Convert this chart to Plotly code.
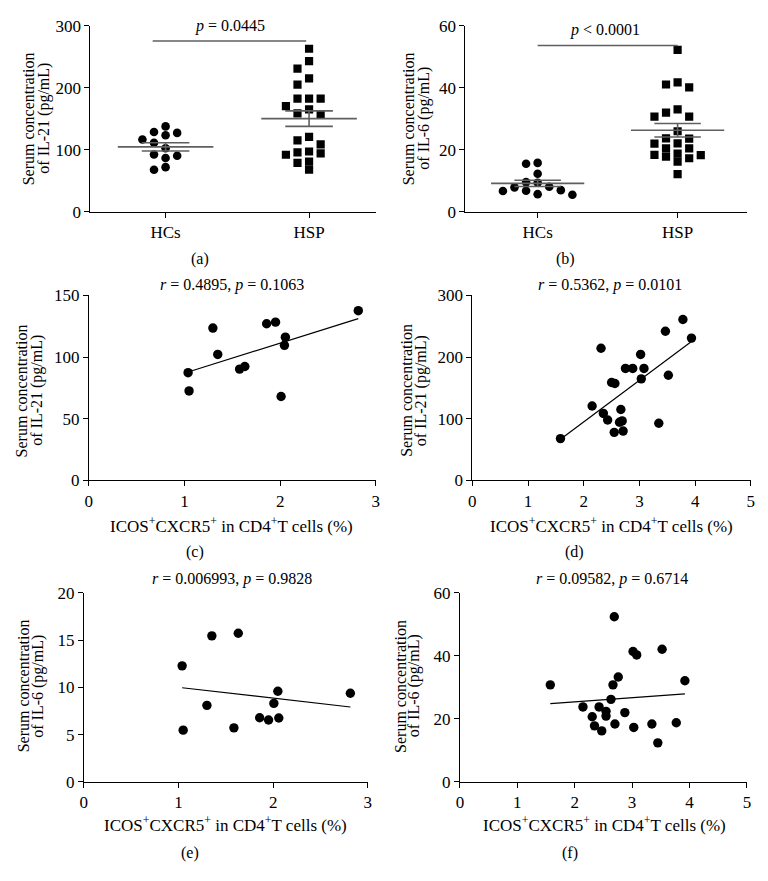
import numpy as np
import plotly.graph_objects as go

W, H = 768, 881

# ---------------- data ----------------
groups = ["HCs", "HSP"]

a_hcs = [137.9, 128.9, 127.4, 123.7, 116.8, 111.6, 102.6, 92.6, 90.5, 86.8, 72.1, 67.9]
a_hsp = [263.2, 243.2, 231.1, 215.3, 205.3, 182.6, 182.6, 182.6, 170.5, 165.3, 158.9,
         156.3, 121.1, 115.3, 108.9, 97.4, 95.8, 94.2, 92.1, 81.1, 78.9, 67.9]

b_hcs = [15.5, 15.8, 12.3, 9.6, 9.4, 8.1, 7.9, 7.0, 6.8, 6.7, 5.5, 5.7]
b_hsp = [52.3, 41.8, 41.1, 40.2, 33.1, 32.0, 30.7, 30.7, 26.0, 23.6, 23.7, 22.0,
         22.1, 20.5, 20.5, 18.8, 18.3, 18.4, 17.3, 17.8, 16.2, 12.2]

c_x = [1.038, 1.048, 1.297, 1.348, 1.576, 1.631, 1.859, 1.952, 2.055, 2.045, 2.010, 2.817]
c_y = [87.3, 72.5, 123.5, 102.1, 90.2, 92.3, 127.0, 128.3, 116.1, 109.5, 68.0, 137.6]

d_x = [1.582, 2.150, 2.310, 2.352, 2.429, 2.500, 2.559, 2.666, 2.642, 2.690, 2.547,
       2.707, 2.749, 2.879, 3.021, 3.033, 3.081, 3.466, 3.519, 3.780, 3.934, 3.347]
d_y = [67.7, 120.6, 214.3, 108.5, 97.9, 158.7, 157.1, 114.8, 94.2, 96.3, 77.8,
       79.9, 181.5, 181.5, 204.2, 164.6, 181.5, 241.8, 170.4, 260.8, 230.7, 92.6]

e_x = [1.038, 1.049, 1.300, 1.352, 1.585, 1.631, 1.857, 1.951, 2.007, 2.049, 2.059, 2.815]
e_y = [12.28, 5.48, 8.10, 15.45, 5.72, 15.72, 6.79, 6.55, 8.31, 9.59, 6.76, 9.38]

f_x = [1.575, 2.144, 2.305, 2.345, 2.425, 2.471, 2.546, 2.546, 2.632, 2.667, 2.690,
       2.701, 2.759, 2.874, 3.017, 3.080, 3.029, 3.345, 3.448, 3.523, 3.770, 3.920]
f_y = [30.8, 23.8, 20.7, 17.8, 23.8, 16.2, 22.4, 20.9, 26.2, 30.8, 52.4,
       18.4, 33.3, 22.0, 41.4, 40.3, 17.3, 18.4, 12.4, 42.1, 18.8, 32.1]

titles = {
    "a": "<i>p</i> = 0.0445",
    "b": "<i>p</i> < 0.0001",
    "c": "<i>r</i> = 0.4895, <i>p</i> = 0.1063",
    "d": "<i>r</i> = 0.5362, <i>p</i> = 0.0101",
    "e": "<i>r</i> = 0.006993, <i>p</i> = 0.9828",
    "f": "<i>r</i> = 0.09582, <i>p</i> = 0.6714",
}
xtitle = "ICOS<sup>+</sup>CXCR5<sup>+</sup> in CD4<sup>+</sup>T cells (%)"
ytitle_l1 = "Serum concentration"
ytitle_il21 = "of IL-21 (pg/mL)"
ytitle_il6 = "of IL-6 (pg/mL)"

# ---------------- layout helpers ----------------
FONT = "Liberation Serif"
FS = 16
GRAY = "#5f5f5f"


def fx(px):
    return px / W


def fy(py):
    return 1 - py / H


# pixel boxes: (left, right, top, bottom)
boxes = {
    "a": (87.3, 376.0, 17.3, 207.3),
    "b": (466.3, 750.7, 17.3, 207.3),
    "c": (85.7, 375.7, 292.7, 481.7),
    "d": (473.3, 754.7, 292.7, 481.7),
    "e": (80.7, 367.7, 596.7, 790.0),
    "f": (460.7, 750.7, 596.7, 790.0),
}
xranges = {"a": [-0.524, 1.467], "b": [-0.516, 1.495], "c": [0, 3], "d": [0, 5],
           "e": [0, 3], "f": [0, 5]}
yranges = {"a": [0, 300], "b": [0, 60], "c": [0, 150], "d": [0, 300],
           "e": [0, 20], "f": [0, 60]}
yticks = {"a": [0, 100, 200, 300], "b": [0, 20, 40, 60], "c": [0, 50, 100, 150],
          "d": [0, 100, 200, 300], "e": [0, 5, 10, 15, 20], "f": [0, 20, 40, 60]}

fig = go.Figure()
keys = ["a", "b", "c", "d", "e", "f"]
for i, k in enumerate(keys):
    n = "" if i == 0 else str(i + 1)
    l, r, t, b = boxes[k]
    axcommon = dict(showgrid=False, zeroline=False, showline=True, linecolor="black",
                    linewidth=1, ticks="outside", ticklen=5, tickcolor="black",
                    tickwidth=1, tickfont=dict(family=FONT, size=17, color="black"))
    xa = dict(domain=[fx(l), fx(r)], range=xranges[k], anchor="y" + n, **axcommon)
    if k in ("a", "b"):
        xa.update(tickmode="array", tickvals=[0, 1], ticktext=groups)
    else:
        xa.update(tickmode="linear", tick0=0, dtick=1)
    ya = dict(domain=[fy(b), fy(t)], range=yranges[k], anchor="x" + n,
              tickmode="array", tickvals=yticks[k], **axcommon)
    fig.layout["xaxis" + n] = xa
    fig.layout["yaxis" + n] = ya


def swarm_cols(vals, px_per_unit, diam=8.6):
    vals = np.asarray(vals, dtype=float)
    order = np.argsort(-vals, kind="stable")
    cols = {}
    out = np.zeros(len(vals))
    cand = [0, -1, 1, -2, 2, -3, 3, -4, 4, -5, 5]
    for i in order:
        y = vals[i] * px_per_unit
        for c in cand:
            if all(abs(y - yy) >= diam for yy in cols.get(c, [])):
                cols.setdefault(c, []).append(y)
                out[i] = c
                break
    return out


COLSTEP = 11.7  # px between swarm columns


def add_group_panel(k, n, hcs, hsp):
    l, r, t, b = boxes[k]
    xr = xranges[k]
    px_x = (r - l) / (xr[1] - xr[0])
    px_y = (b - t) / (yranges[k][1] - yranges[k][0])
    for gi, (vals, sym, sz) in enumerate([(hcs, "circle", 8.6), (hsp, "square", 8.2)]):
        cols = swarm_cols(vals, px_y, diam=sz)
        xs = gi + cols * COLSTEP / px_x
        fig.add_trace(go.Scatter(x=xs, y=vals, mode="markers", xaxis="x" + n, yaxis="y" + n,
                                 marker=dict(symbol=sym, size=sz, color="black",
                                             line=dict(width=0)),
                                 showlegend=False, hoverinfo="y"))
        v = np.asarray(vals)
        m = v.mean()
        sem = v.std(ddof=1) / np.sqrt(len(v))
        hw, cw = 0.333, 0.166
        lx = [gi - hw, gi + hw, None, gi - cw, gi + cw, None, gi - cw, gi + cw, None, gi, gi]
        ly = [m, m, None, m + sem, m + sem, None, m - sem, m - sem, None, m - sem, m + sem]
        fig.add_trace(go.Scatter(x=lx, y=ly, mode="lines", xaxis="x" + n, yaxis="y" + n,
                                 line=dict(color=GRAY, width=1.6), showlegend=False,
                                 hoverinfo="skip"))


def add_corr_panel(k, n, xv, yv):
    fig.add_trace(go.Scatter(x=xv, y=yv, mode="markers", xaxis="x" + n, yaxis="y" + n,
                             marker=dict(symbol="circle", size=9.4, color="black",
                                         line=dict(width=0)),
                             showlegend=False))
    slope, icpt = np.polyfit(xv, yv, 1)
    x0, x1 = min(xv), max(xv)
    fig.add_trace(go.Scatter(x=[x0, x1], y=[icpt + slope * x0, icpt + slope * x1],
                             mode="lines", xaxis="x" + n, yaxis="y" + n,
                             line=dict(color="black", width=1.2), showlegend=False,
                             hoverinfo="skip"))


add_group_panel("a", "", a_hcs, a_hsp)
add_group_panel("b", "2", b_hcs, b_hsp)
add_corr_panel("c", "3", c_x, c_y)
add_corr_panel("d", "4", d_x, d_y)
add_corr_panel("e", "5", e_x, e_y)
add_corr_panel("f", "6", f_x, f_y)

# significance bars
fig.add_shape(type="line", xref="x", yref="y", x0=-0.09, x1=0.98, y0=275.8, y1=275.8,
              line=dict(color=GRAY, width=1.6))
fig.add_shape(type="line", xref="x2", yref="y2", x0=0, x1=1, y0=53.7, y1=53.7,
              line=dict(color=GRAY, width=1.6))

ann = []


def text(x, y, s, angle=0, size=FS):
    ann.append(dict(x=fx(x), y=fy(y), xref="paper", yref="paper", text=s, showarrow=False,
                    xanchor="center", yanchor="middle", textangle=angle,
                    font=dict(family=FONT, size=size, color="black")))


# significance / correlation titles
text(228, 17.5, titles["a"])
text(607, 21, titles["b"])
text(230, 281.7, titles["c"])
text(612, 281.7, titles["d"])
text(230, 583, titles["e"])
text(614, 583, titles["f"])

# y-axis titles (two tight lines)
YS = 16
for (x1, x2, yc, l2) in [(25, 39.5, 112, ytitle_il21), (409, 423.5, 112, ytitle_il6),
                         (18, 32.5, 390, ytitle_il21), (406.5, 421, 390, ytitle_il21),
                         (19.5, 34, 692, ytitle_il6), (400, 414.5, 692, ytitle_il6)]:
    text(x1, yc, ytitle_l1, -90, YS)
    text(x2, yc, l2, -90, YS)

# x-axis titles
XS = 17
text(230, 527, xtitle, size=XS)
text(614, 527, xtitle, size=XS)
text(224, 833, xtitle, size=XS)
text(607, 833, xtitle, size=XS)

# panel labels
text(198, 255, "(a)")
text(567, 255, "(b)")
text(193, 555, "(c)")
text(577, 555, "(d)")
text(188, 863, "(e)")
text(572, 863, "(f)")

fig.update_layout(width=W, height=H, margin=dict(l=0, r=0, t=0, b=0),
                  paper_bgcolor="white", plot_bgcolor="white", showlegend=False,
                  annotations=ann, font=dict(family=FONT, size=FS, color="black"))

fig.write_html("out.html", config={"displayModeBar": False},
               post_script="document.body.style.margin='0';document.body.style.padding='0';")
